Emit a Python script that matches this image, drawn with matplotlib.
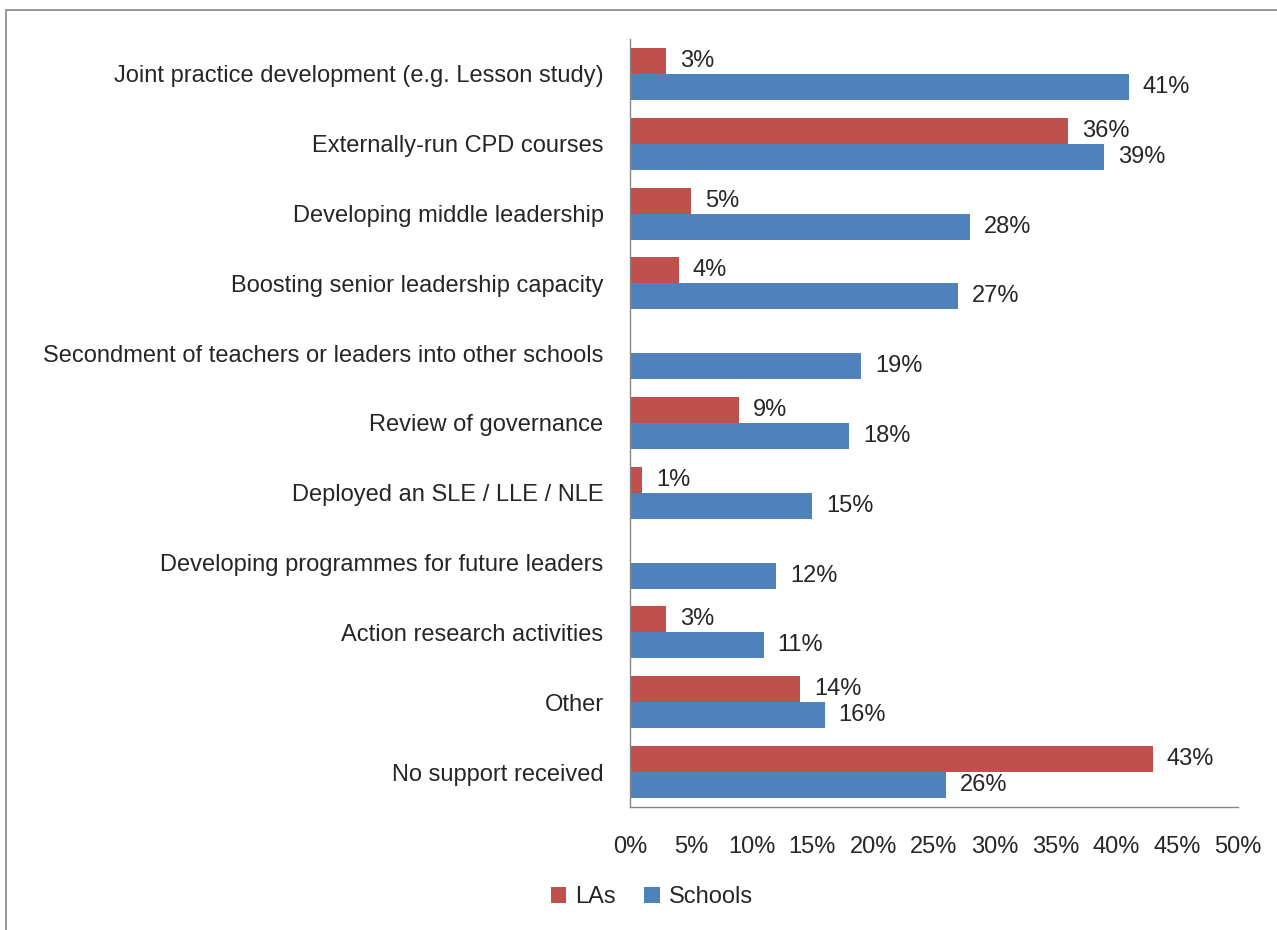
import matplotlib.pyplot as plt
import numpy as np
from matplotlib.patches import Rectangle

plt.rcParams['font.family'] = ['Liberation Sans Narrow', 'Liberation Sans', 'DejaVu Sans']

categories = [
    "Joint practice development (e.g. Lesson study)",
    "Externally-run CPD courses",
    "Developing middle leadership",
    "Boosting senior leadership capacity",
    "Secondment of teachers or leaders into other schools",
    "Review of governance",
    "Deployed an SLE / LLE / NLE",
    "Developing programmes for future leaders",
    "Action research activities",
    "Other",
    "No support received",
]
las = [3, 36, 5, 4, np.nan, 9, 1, np.nan, 3, 14, 43]
schools = [41, 39, 28, 27, 19, 18, 15, 12, 11, 16, 26]
x_ticks = [0, 5, 10, 15, 20, 25, 30, 35, 40, 45, 50]

RED = "#C0504D"
BLUE = "#4F81BD"
TEXT = "#262626"
FS = 17

fig = plt.figure(figsize=(12.77, 9.30), dpi=100)
ax = fig.add_axes([630 / 1277, 1 - 807 / 930, 608 / 1277, 768 / 930])

y = np.arange(len(categories))
h = 0.373
ax.barh(y - h / 2, las, height=h, color=RED, label="LAs")
ax.barh(y + h / 2, schools, height=h, color=BLUE, label="Schools")

for yi, v in zip(y, las):
    if not np.isnan(v):
        ax.annotate(f"{v:.0f}%", (v, yi - h / 2), xytext=(10, 0), textcoords="offset points",
                    va="center", ha="left", fontsize=FS, color=TEXT)
for yi, v in zip(y, schools):
    ax.annotate(f"{v:.0f}%", (v, yi + h / 2), xytext=(10, 0), textcoords="offset points",
                va="center", ha="left", fontsize=FS, color=TEXT)

ax.set_xlim(0, 50)
ax.set_ylim(len(categories) - 0.5, -0.5)
ax.set_xticks(x_ticks)
ax.set_xticklabels([f"{t}%" for t in x_ticks], fontsize=FS, color=TEXT)
ax.set_yticks(y)
ax.set_yticklabels(categories, fontsize=FS, color=TEXT)
ax.tick_params(axis="x", length=0, pad=21)
ax.tick_params(axis="y", length=0, pad=19)

for s in ["top", "right"]:
    ax.spines[s].set_visible(False)
for s in ["left", "bottom"]:
    ax.spines[s].set_color("#868686")
    ax.spines[s].set_linewidth(1.0)

leg = fig.legend(loc="center", bbox_to_anchor=(652 / 1277, 1 - 897 / 930), ncol=2, frameon=False,
                 fontsize=FS, handlelength=0.65, handleheight=0.65, handletextpad=0.4, columnspacing=1.2)
for t in leg.get_texts():
    t.set_color(TEXT)

fig.patches.append(Rectangle((6 / 1277, -0.1), 1.2, 1.1 - 10 / 930, transform=fig.transFigure,
                             fill=False, edgecolor="#868686", linewidth=1.2))

fig.savefig("out.png", dpi=100)
